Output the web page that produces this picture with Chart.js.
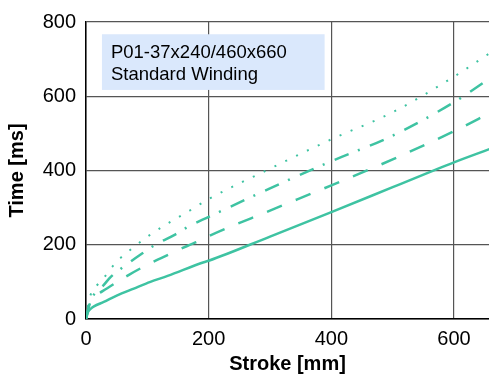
<!DOCTYPE html>
<html><head><meta charset="utf-8">
<script src="https://cdn.jsdelivr.net/npm/chart.js@4/dist/chart.umd.min.js"></script>
<style>html,body{margin:0;padding:0;background:#fff;overflow:hidden}#wrap{width:489px;height:376px;position:relative}</style>
</head><body><div id="wrap"><canvas id="c" width="489" height="376"></canvas></div>
<script>
const xTicks = [0, 200, 400, 600];
const yTicks = [0, 200, 400, 600, 800];
const solidX = [0, 3, 8, 13, 29, 50, 78, 105, 133, 192, 200, 300, 400, 500, 600, 660];
const solidY = [0, 18, 28, 34, 46, 63, 82, 100, 116, 153, 157, 222, 288, 355, 422, 459];
const dashedX = [0, 6, 14, 27, 48, 70, 93, 116, 139, 164, 187, 200, 300, 400, 500, 600, 660];
const dashedY = [0, 40, 60, 75, 97, 119, 140, 159, 177, 196, 212, 223, 292, 360, 430, 506, 556];
const dashDotX = [0, 6, 15, 28, 40, 59, 92, 113, 146, 167, 200, 300, 400, 500, 600, 660];
const dashDotY = [0, 45, 70, 90, 113, 138, 177, 200, 228, 249, 275, 352, 425, 494, 584, 650];
const dottedX = [0, 5, 10, 19, 32, 43, 56, 72, 102, 135, 169, 200, 300, 400, 500, 600, 660];
const dottedY = [0, 50, 75, 93, 117, 141, 164, 186, 224, 259, 292, 323, 405, 484, 557, 653, 718];
const boxLines = ['P01-37x240/460x660', 'Standard Winding'];
const xTitle = 'Stroke [mm]';
const yTitle = 'Time [ms]';

const teal = '#3ec3a2';
const pts = (xs, ys) => xs.map((x, i) => ({x: x, y: ys[i]}));
const FONT = "'Liberation Sans', Arial, Helvetica, sans-serif";

const boxPlugin = {
  id: 'box',
  beforeDatasetsDraw(chart) {
    const ctx = chart.ctx, xs = chart.scales.x, ys = chart.scales.y;
    const x0 = xs.getPixelForValue(26), x1 = xs.getPixelForValue(389);
    const y0 = ys.getPixelForValue(767), y1 = ys.getPixelForValue(617);
    ctx.save();
    ctx.fillStyle = '#dae8fc';
    ctx.fillRect(x0, y0, x1 - x0, y1 - y0);
    ctx.fillStyle = '#000';
    ctx.font = '18.5px ' + FONT;
    ctx.textBaseline = 'alphabetic';
    ctx.textAlign = 'left';
    ctx.fillText(boxLines[0], x0 + 9, y0 + 24);
    ctx.fillText(boxLines[1], x0 + 9, y0 + 46);
    ctx.restore();
  }
};

const common = {borderColor: teal, pointRadius: 0, fill: false, cubicInterpolationMode: 'monotone'};

new Chart(document.getElementById('c'), {
  type: 'line',
  data: {
    datasets: [
      Object.assign({data: pts(solidX, solidY), borderWidth: 2.5}, common),
      Object.assign({data: pts(dashedX, dashedY), borderWidth: 2.5, borderDash: [16, 15]}, common),
      Object.assign({data: pts(dashDotX, dashDotY), borderWidth: 2.5, borderDash: [15, 10, 2, 11]}, common),
      Object.assign({data: pts(dottedX, dottedY), borderWidth: 2, borderDash: [2, 10]}, common)
    ]
  },
  options: {
    responsive: false,
    animation: false,
    events: [],
    layout: {padding: {left: 0, right: 0, top: 20, bottom: 0}},
    plugins: {legend: {display: false}, tooltip: {enabled: false}},
    scales: {
      x: {
        type: 'linear', min: 0, max: 657,
        afterFit(s) { s.height = 57; },
        afterBuildTicks(s) { s.ticks = xTicks.map(v => ({value: v})); },
        ticks: {color: '#000', font: {family: FONT, size: 20}, padding: 8},
        grid: {color: '#555', lineWidth: 1.2, drawTicks: false},
        border: {color: '#000', width: 1.5},
        title: {display: true, text: xTitle, color: '#000', font: {family: FONT, size: 20, weight: 'bold'}, padding: {top: 0, bottom: 0}}
      },
      y: {
        type: 'linear', min: 0, max: 800,
        afterFit(s) { s.width = 86; },
        afterBuildTicks(s) { s.ticks = yTicks.map(v => ({value: v})); },
        ticks: {color: '#000', font: {family: FONT, size: 20}, padding: 10},
        grid: {color: '#555', lineWidth: 1.2, drawTicks: false},
        border: {color: '#000', width: 1.5},
        title: {display: true, text: yTitle, color: '#000', font: {family: FONT, size: 20, weight: 'bold'}, padding: {top: 5, bottom: 4}}
      }
    }
  },
  plugins: [boxPlugin]
});
</script></body></html>
